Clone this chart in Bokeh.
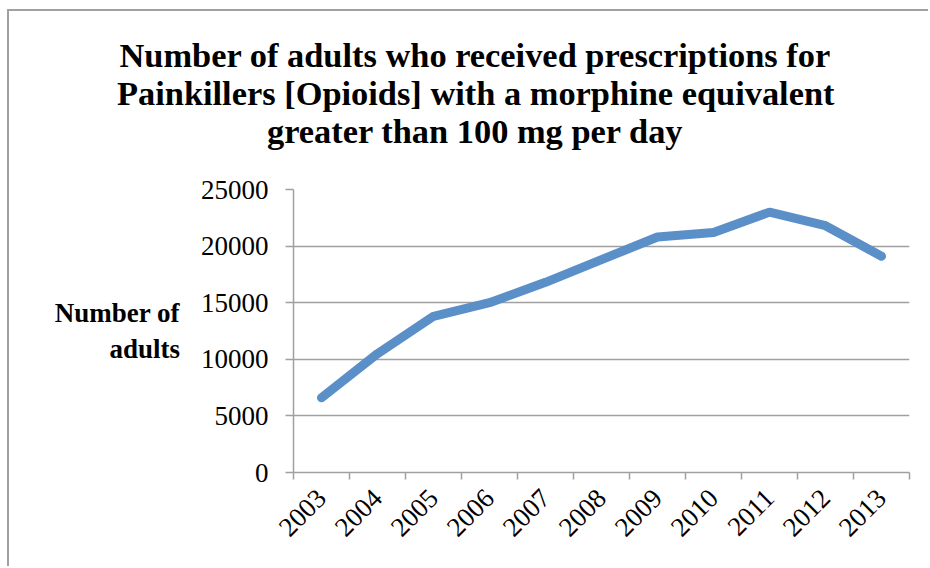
from bokeh.plotting import figure
from bokeh.models import FixedTicker, Title
from bokeh.embed import file_html
from bokeh.resources import INLINE
from math import pi

# Adults receiving opioid prescriptions above 100 mg morphine equivalent per day
years = ["2003", "2004", "2005", "2006", "2007", "2008",
         "2009", "2010", "2011", "2012", "2013"]
adults = [6600, 10500, 13800, 15000, 16800, 18800,
          20800, 21200, 23000, 21800, 19100]
y_ticks = [0, 5000, 10000, 15000, 20000, 25000]
y_max = 25000

title_lines = ["Number of adults who received prescriptions for",
               "Painkillers [Opioids] with a morphine equivalent",
               "greater than 100 mg per day"]
y_label_text = "Number of\nadults"

FONT = "Liberation Serif"
GRAY = "#a0a0a0"
TITLE_SIZE = "34.4px"

# one slot per year; the line passes through slot centres
centres = [i + 0.5 for i in range(len(years))]
bounds = list(range(len(years) + 1))

p = figure(width=921, height=557, output_backend="svg", toolbar_location=None,
           x_range=(0, len(years)), y_range=(0, y_max),
           min_border_left=284, min_border_right=21,
           min_border_top=178, min_border_bottom=96)
p.outline_line_color = None
p.background_fill_color = "white"
p.border_fill_color = "white"
# chart-area frame drawn by the page around the canvas
p.styles = {"margin-left": "7px", "margin-top": "9px",
            "border-left": "2px solid #a0a0a0",
            "border-top": "2px solid #a0a0a0"}

p.line(centres, adults, line_width=9, line_color="#5A8FC8",
       line_cap="round", line_join="round")

# x axis: labels at slot centres, ticks on slot boundaries
xa = p.xaxis[0]
xa.ticker = FixedTicker(ticks=centres, minor_ticks=bounds)
xa.major_label_overrides = {c: y for c, y in zip(centres, years)}
xa.major_label_orientation = pi / 4
xa.major_tick_line_color = None
xa.minor_tick_line_color = GRAY
xa.minor_tick_line_width = 1.5
xa.minor_tick_in = 0
xa.minor_tick_out = 7
xa.axis_line_color = GRAY
xa.axis_line_width = 1.5
xa.major_label_text_font = FONT
xa.major_label_text_font_size = "27px"
xa.major_label_text_color = "black"
xa.major_label_standoff = 14

ya = p.yaxis[0]
ya.ticker = FixedTicker(ticks=y_ticks)
ya.minor_tick_line_color = None
ya.major_tick_line_color = GRAY
ya.major_tick_line_width = 1.5
ya.major_tick_in = 0
ya.major_tick_out = 8
ya.axis_line_color = GRAY
ya.axis_line_width = 1.5
ya.major_label_text_font = FONT
ya.major_label_text_font_size = "27px"
ya.major_label_text_color = "black"
ya.major_label_standoff = 17
ya.axis_label = y_label_text
ya.axis_label_orientation = "horizontal"
ya.axis_label_standoff = 18
ya.axis_label_text_font = FONT
ya.axis_label_text_font_style = "bold"
ya.axis_label_text_font_size = "27px"
ya.axis_label_text_color = "black"
ya.axis_label_text_line_height = 1.18

p.xgrid.grid_line_color = None
p.ygrid.grid_line_color = GRAY
p.ygrid.grid_line_width = 1.5

# blank strip between the title block and the plot area
p.add_layout(Title(text=" ", standoff=1, text_font=FONT,
                   text_font_size=TITLE_SIZE), "above")

# title, one centred line per Title; offsets are from the frame's left edge
title_offsets = [-174, -176.5, -26.5]
for text, off in reversed(list(zip(title_lines, title_offsets))):
    p.add_layout(Title(text=text, align="left", offset=off,
                       vertical_align="bottom", standoff=-2,
                       text_font=FONT, text_font_style="bold",
                       text_font_size=TITLE_SIZE, text_color="black"), "above")

open("out.html", "w").write(file_html(p, INLINE))
